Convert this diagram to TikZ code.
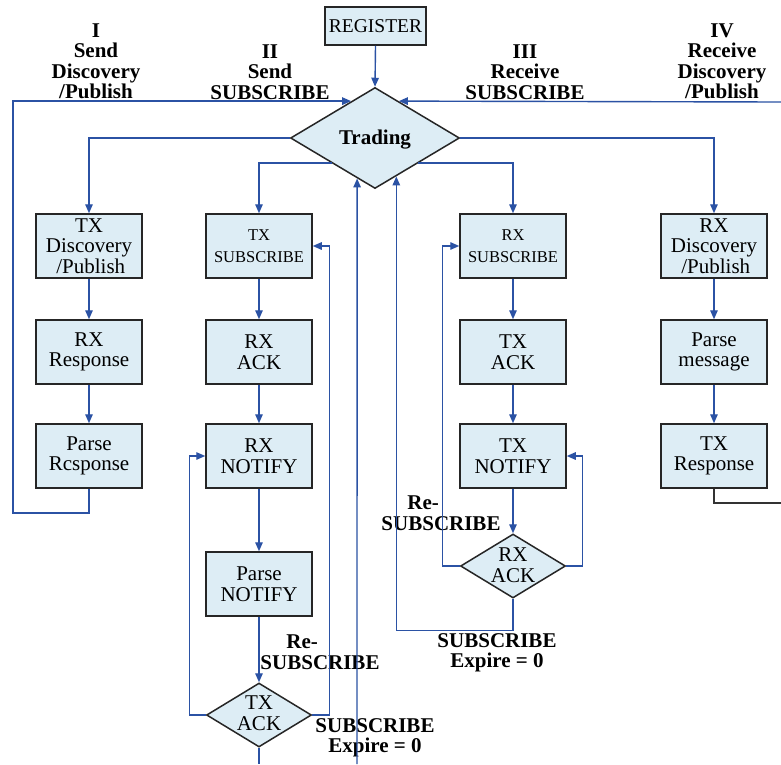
\documentclass[tikz,border=0pt]{standalone}
\usepackage{fontspec}
\setmainfont{Liberation Serif}
\usetikzlibrary{shapes.geometric,arrows.meta,calc}
\definecolor{boxfill}{RGB}{221,237,245}
\definecolor{lineblue}{RGB}{43,82,164}
\begin{document}
\begin{tikzpicture}[x=1pt,y=-1pt,
  procbox/.style={draw=black!85,line width=1.5pt,fill=boxfill,minimum width=106pt,minimum height=64pt,inner sep=0pt,align=center,font=\fontsize{21}{20.5}\selectfont},
  smallbox/.style={procbox,font=\fontsize{16.5}{22}\selectfont},
  decide/.style={diamond,draw=black!85,line width=1.5pt,fill=boxfill,inner sep=0pt},
  dtext/.style={align=center,font=\fontsize{21}{20.5}\selectfont},
  lbl/.style={align=center,font=\bfseries\fontsize{21}{20.5}\selectfont},
  arr/.style={draw=lineblue,line width=1.4pt,-{Triangle[length=9pt,width=7.5pt]}},
  ln/.style={draw=lineblue,line width=1.4pt},
  dark/.style={draw=black!80,line width=1.4pt}]
\useasboundingbox (0,0) rectangle (781,764);
\fill[white] (0,0) rectangle (781,764);

% top
\node[procbox,minimum width=101pt,minimum height=38pt,font=\fontsize{19.5}{20}\selectfont] (reg) at (375.5,26) {REGISTER};
\node[decide,minimum width=169pt,minimum height=101pt] (trading) at (375,138) {};
\node[lbl] (tradingt) at (375,140) {Trading};

% column I
\node[procbox] (txdisc) at (89,246) {TX\\Discovery\\\,/Publish};
\node[procbox] (rxresp) at (89,352) {RX\\Response};
\node[procbox] (parseresp) at (89,456) {Parse\\Rcsponse};

% column II
\node[smallbox] (txsub) at (259,246) {TX\\SUBSCRIBE};
\node[procbox] (rxack) at (259,352) {RX\\ACK};
\node[procbox] (rxnotify) at (259,456) {RX\\NOTIFY};
\node[procbox] (parsenotify) at (259,584) {Parse\\NOTIFY};
\node[decide,minimum width=105pt,minimum height=64pt] (txack) at (259,715) {};
\node[dtext] (txackt) at (259,713) {TX\\ACK};

% column III
\node[smallbox] (rxsub) at (513,246) {RX\\SUBSCRIBE};
\node[procbox] (txackb) at (513,352) {TX\\ACK};
\node[procbox] (txnotify) at (513,456) {TX\\NOTIFY};
\node[decide,minimum width=105pt,minimum height=64pt] (rxackd) at (513,566) {};
\node[dtext] (rxackt) at (513,565) {RX\\ACK};

% column IV
\node[procbox] (rxdisc) at (714,246) {RX\\Discovery\\\,/Publish};
\node[procbox] (parsemsg) at (714,352) {Parse\\message};
\node[procbox] (txresp) at (714,456) {TX\\Response};

% labels
\node[lbl] (l1) at (96,61) {I\\Send\\Discovery\\/Publish};
\node[lbl] (l2) at (270,72) {II\\Send\\SUBSCRIBE};
\node[lbl] (l3) at (525,72) {III\\Receive\\SUBSCRIBE};
\node[lbl] (l4) at (722,61) {IV\\Receive\\Discovery\\/Publish};
\node[lbl] (re3) at (441,513) {Re-\hspace*{1.7em}\\SUBSCRIBE};
\node[lbl] (re2) at (320,652) {Re-\hspace*{1.7em}\\SUBSCRIBE};
\node[lbl] (ex3) at (497,653) {SUBSCRIBE\\Expire = 0};
\node[lbl] (ex2) at (375,738) {SUBSCRIBE\\Expire = 0};

% coordinates on the trading diamond
\coordinate (tll) at ($(trading.west)!0.49!(trading.south)$);
\coordinate (trl) at ($(trading.east)!0.49!(trading.south)$);
\coordinate (tul) at ($(trading.west)!0.72!(trading.north)$);
\coordinate (tur) at ($(trading.east)!0.72!(trading.north)$);
\coordinate (tbl) at ($(trading.west)!0.79!(trading.south)$);
\coordinate (tbr) at ($(trading.east)!0.75!(trading.south)$);

% main connectors
\draw[arr] (reg.south) -- (trading.north);
\draw[arr] (trading.west) -| (txdisc.north);
\draw[arr] (tll) -| (txsub.north);
\draw[arr] (trl) -| (rxsub.north);
\draw[arr] (trading.east) -| (rxdisc.north);

% chains
\draw[arr] (txdisc) -- (rxresp);
\draw[arr] (rxresp) -- (parseresp);
\draw[arr] (txsub) -- (rxack);
\draw[arr] (rxack) -- (rxnotify);
\draw[arr] (rxnotify) -- (parsenotify);
\draw[arr] (parsenotify) -- (txack.north);
\draw[arr] (rxsub) -- (txackb);
\draw[arr] (txackb) -- (txnotify);
\draw[arr] (txnotify) -- (rxackd.north);
\draw[arr] (rxdisc) -- (parsemsg);
\draw[arr] (parsemsg) -- (txresp);

% loop I
\coordinate (c1) at (13,513);
\draw[arr] (parseresp.south) |- (c1) |- (tul);
% loop IV
\coordinate (c4a) at (781,503);
\coordinate (c4b) at (781,102);
\draw[dark] (txresp.south) |- (c4a);
\draw[arr] (c4b) -- (tur);

% TX ACK loops
\draw[arr] (txack.west) -- ++(-16,0) |- (rxnotify.west);
\draw[arr] (txack.east) -- ++(17,0) |- (txsub.east);
\coordinate (c2a) at (259,764);
\draw[ln] (txack.south) -- (c2a);
\coordinate (c2b) at (357,764);
\draw[arr] (c2b) -- (tbl);

% RX ACK loops
\draw[arr] (rxackd.west) -- ++(-17,0) |- (rxsub.west);
\draw[arr] (rxackd.east) -- ++(16,0) |- (txnotify.east);
\draw[arr] (rxackd.south) -- ++(0,32) -| (tbr);
\end{tikzpicture}
\end{document}
